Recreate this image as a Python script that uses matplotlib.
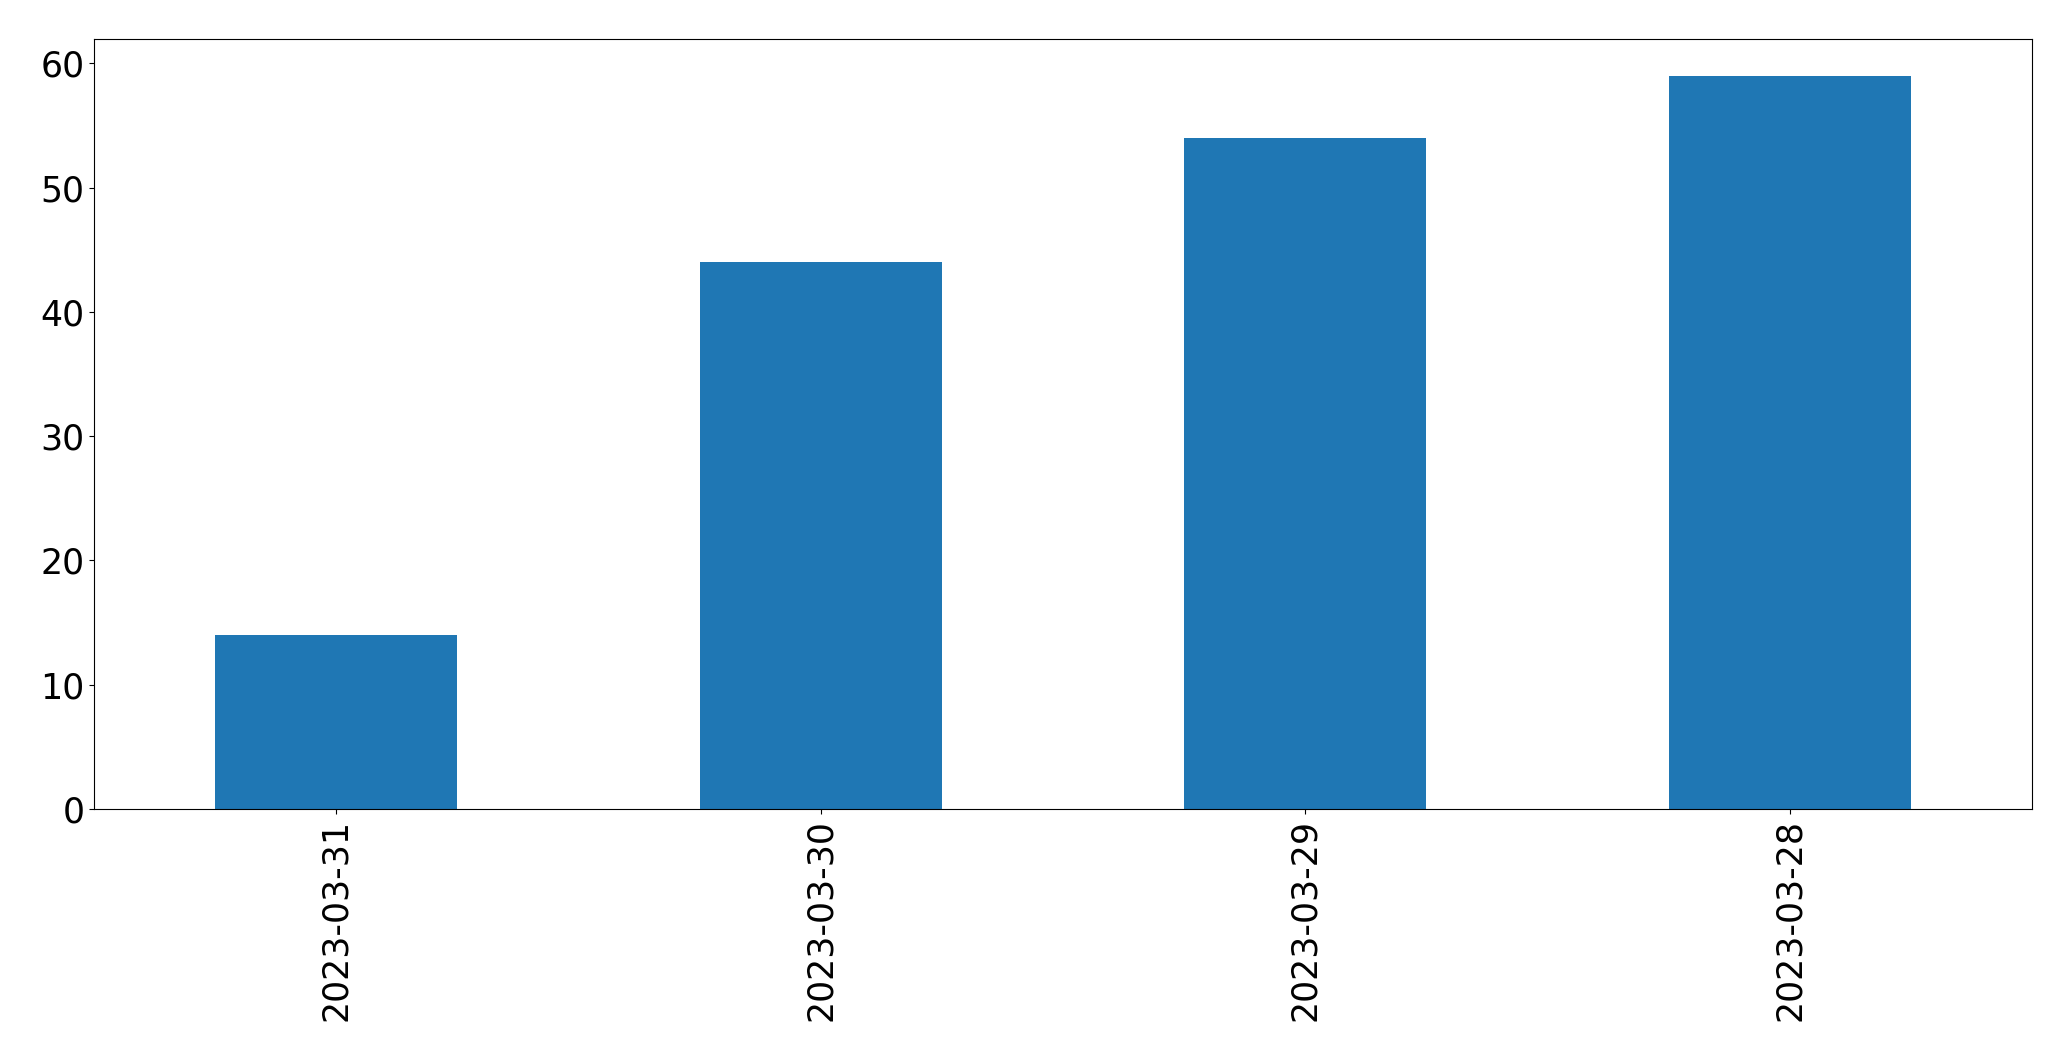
import matplotlib
matplotlib.use("Agg")
import pandas as pd
from matplotlib import pyplot as plt

dates = ["2023-03-31", "2023-03-30", "2023-03-29", "2023-03-28"]
counts = [14, 44, 54, 59]

s = pd.Series(counts, index=dates)

W, H = 2071, 1061
fig = plt.figure(figsize=(W / 100, H / 100), dpi=100)
ax = fig.add_axes([94 / W, 1 - 809 / H, (2032 - 94) / W, (809 - 39) / H])
s.plot.bar(ax=ax, color="#1f77b4")
ax.tick_params(labelsize=25)

fig.savefig("out.png", dpi=100)
